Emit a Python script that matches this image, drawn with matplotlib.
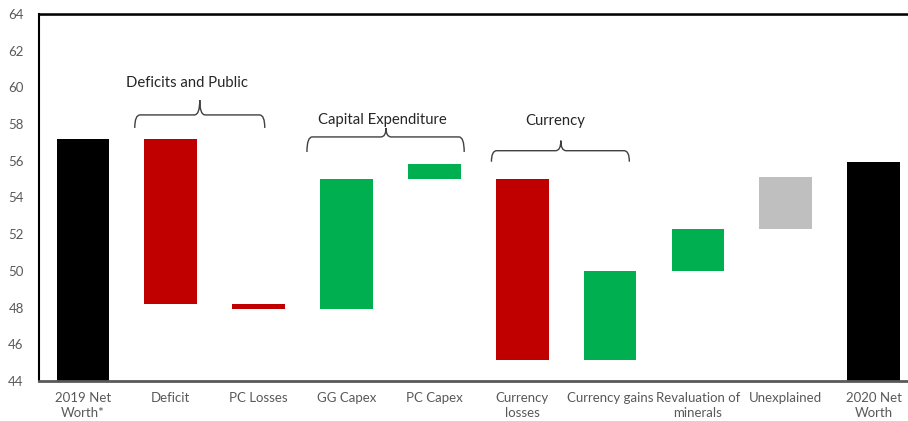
import matplotlib
matplotlib.use("Agg")
import matplotlib.pyplot as plt
from matplotlib.path import Path
from matplotlib.patches import PathPatch

plt.rcParams['font.family'] = ['Lato', 'DejaVu Sans']

# data
categories = ["2019 Net\nWorth*", "Deficit", "PC Losses", "GG Capex", "PC Capex",
              "Currency\nlosses", "Currency gains", "Revaluation of\nminerals",
              "Unexplained", "2020 Net\nWorth"]
bar_low = [0, 48.2, 47.95, 47.95, 55.0, 45.15, 45.15, 50.0, 52.3, 0]
bar_high = [57.2, 57.2, 48.2, 55.0, 55.85, 55.0, 50.0, 52.3, 55.1, 55.95]
bar_colors = ["#000000", "#C00000", "#C00000", "#00B050", "#00B050",
              "#C00000", "#00B050", "#00B050", "#BFBFBF", "#000000"]
y_ticks = list(range(44, 65, 2))

# group brackets: (label, x start, x end, tip x, y ends, y line, y tip, text x, text y)
groups = [
    ("Deficits and Public", 0.59, 2.07, 1.33, 57.79, 58.5, 59.31, 1.18, 60.26),
    ("Capital Expenditure", 2.55, 4.34, 3.45, 56.48, 57.3, 57.79, 3.41, 58.22),
    ("Currency", 4.65, 6.22, 5.44, 55.95, 56.55, 57.1, 5.375, 58.17),
]

fig = plt.figure(figsize=(9.08, 4.21), dpi=100)
ax = fig.add_axes([39 / 908, 40 / 421, (917.5 - 39) / 908, (381 - 14) / 421])

x = range(len(categories))
heights = [h - l for l, h in zip(bar_low, bar_high)]
ax.bar(x, heights, bottom=bar_low, width=0.6, color=bar_colors, zorder=2)

ax.set_xlim(-0.5, len(categories) - 0.5)
ax.set_ylim(44, 64)
ax.set_yticks(y_ticks)
ax.set_yticklabels([str(t) for t in y_ticks])
ax.set_xticks(list(x))
ax.set_xticklabels(categories, linespacing=1.25)
ax.tick_params(axis='y', length=0, pad=11, labelsize=9.5, labelcolor="#595959")
ax.tick_params(axis='x', length=0, pad=8, labelsize=9.5, labelcolor="#595959")

ax.spines['left'].set_color("black")
ax.spines['left'].set_linewidth(1.5)
ax.spines['top'].set_color("black")
ax.spines['top'].set_linewidth(1.8)
ax.spines['bottom'].set_color("#595959")
ax.spines['bottom'].set_linewidth(2)
ax.spines['right'].set_visible(False)
# light grey shadow under the top border
ax.axhline(63.93, color="#BFBFBF", lw=1.2, zorder=1)


def brace(ax, x0, x1, xt, ye, yl, yt):
    dx = 0.06
    verts = [
        (x0, ye), (x0, yl), (x0 + dx, yl),
        (xt - dx, yl), (xt, yl), (xt, yt),
        (xt, yl), (xt + dx, yl),
        (x1 - dx, yl), (x1, yl), (x1, ye),
    ]
    codes = [Path.MOVETO, Path.CURVE3, Path.CURVE3,
             Path.LINETO, Path.CURVE3, Path.CURVE3,
             Path.CURVE3, Path.CURVE3,
             Path.LINETO, Path.CURVE3, Path.CURVE3]
    ax.add_patch(PathPatch(Path(verts, codes), facecolor="none",
                           edgecolor="#404040", lw=1.0, zorder=3))


for label, x0, x1, xt, ye, yl, yt, tx, ty in groups:
    brace(ax, x0, x1, xt, ye, yl, yt)
    ax.text(tx, ty, label, ha='center', va='center', fontsize=10.7, color="#262626")

fig.savefig("out.png", dpi=100)
